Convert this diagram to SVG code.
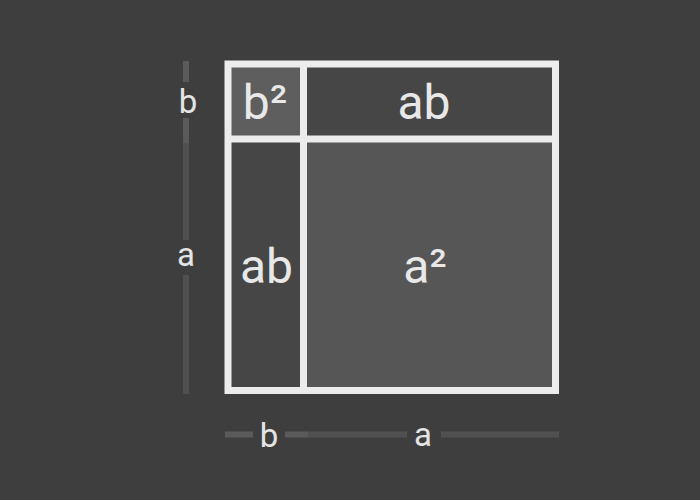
<svg xmlns="http://www.w3.org/2000/svg" width="700" height="500" viewBox="0 0 700 500">
  <defs>
    <style>
      .cell { stroke: none; }
      .edge { fill: none; stroke: #ececec; stroke-width: 7; }
      .big { font-family: Roboto, "Liberation Sans", sans-serif; font-size: 48px; fill: #e8e8e8; text-anchor: middle; }
      .dim { font-family: Roboto, "Liberation Sans", sans-serif; font-size: 33px; fill: #e4e4e4; text-anchor: middle; }
      .dimb { stroke: #5a5a5a; stroke-width: 6; }
      .dima { stroke: #505050; stroke-width: 6; }
    </style>
  </defs>
  <rect x="0" y="0" width="700" height="500" fill="#3e3e3e"/>

  <g id="connectors">
    <line class="dimb" x1="186" y1="61" x2="186" y2="82"/>
    <line class="dimb" x1="186" y1="118" x2="186" y2="143"/>
    <line class="dima" x1="186" y1="143" x2="186" y2="240"/>
    <line class="dima" x1="186" y1="275" x2="186" y2="394"/>
    <line class="dimb" x1="225" y1="434.5" x2="253" y2="434.5"/>
    <line class="dimb" x1="285" y1="434.5" x2="308" y2="434.5"/>
    <line class="dima" x1="308" y1="434.5" x2="407" y2="434.5"/>
    <line class="dima" x1="441" y1="434.5" x2="559" y2="434.5"/>
  </g>

  <g id="cell-b2">
    <rect class="cell" x="228" y="64" width="75.5" height="75" fill="#5e5e5e"/>
    <text class="big" x="265" y="118.5">b²</text>
  </g>
  <g id="cell-ab-top">
    <rect class="cell" x="303.5" y="64" width="252" height="75" fill="#464646"/>
    <text class="big" x="424" y="118.5">ab</text>
  </g>
  <g id="cell-ab-left">
    <rect class="cell" x="228" y="139" width="75.5" height="252" fill="#464646"/>
    <text class="big" x="266.5" y="282.5">ab</text>
  </g>
  <g id="cell-a2">
    <rect class="cell" x="303.5" y="139" width="252" height="252" fill="#565656"/>
    <text class="big" x="425" y="282.5">a²</text>
  </g>

  <g id="outline">
    <rect class="edge" x="228" y="64" width="327.5" height="326.5"/>
    <line class="edge" x1="303.5" y1="64" x2="303.5" y2="390.5"/>
    <line class="edge" x1="228" y1="139" x2="555.5" y2="139"/>
  </g>

  <g id="label-b-left"><text class="dim" x="188" y="113">b</text></g>
  <g id="label-a-left"><text class="dim" x="186" y="266">a</text></g>
  <g id="label-b-bottom"><text class="dim" x="269" y="446.5">b</text></g>
  <g id="label-a-bottom"><text class="dim" x="423" y="445.5">a</text></g>
</svg>
